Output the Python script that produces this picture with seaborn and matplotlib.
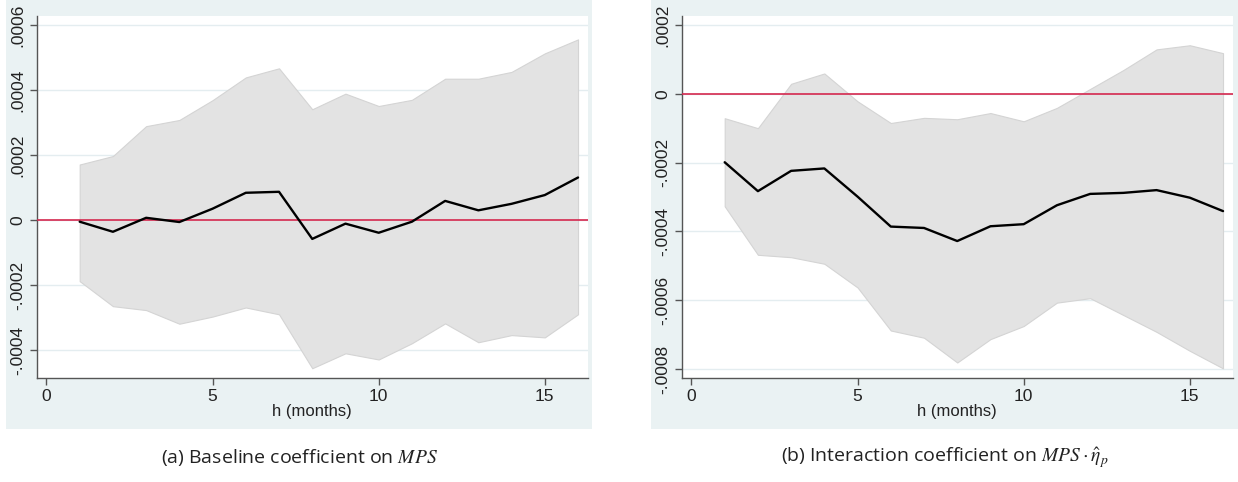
import matplotlib
matplotlib.use("Agg")
import matplotlib.pyplot as plt
import seaborn as sns
import numpy as np
import pandas as pd
from matplotlib.patches import Rectangle
from matplotlib.ticker import FuncFormatter

h = list(range(1, 17))

base_coef = [-0.000005, -0.000036, 0.000007, -0.000006, 0.000035, 0.000084, 0.000087, -0.000058,
             -0.000011, -0.000039, -0.000005, 0.000059, 0.000030, 0.000050, 0.000077, 0.000131]
base_upper = [0.000171, 0.000197, 0.000289, 0.000308, 0.000369, 0.000439, 0.000467, 0.000341,
              0.000389, 0.000351, 0.000370, 0.000435, 0.000435, 0.000456, 0.000513, 0.000556]
base_lower = [-0.000188, -0.000265, -0.000277, -0.000319, -0.000297, -0.000269, -0.000290, -0.000456,
              -0.000410, -0.000429, -0.000379, -0.000318, -0.000376, -0.000354, -0.000361, -0.000290]

int_coef = [-0.000199, -0.000283, -0.000224, -0.000217, -0.000299, -0.000386, -0.000390, -0.000428,
            -0.000385, -0.000379, -0.000324, -0.000291, -0.000288, -0.000280, -0.000302, -0.000341]
int_upper = [-0.000071, -0.000100, 0.000029, 0.000059, -0.000022, -0.000085, -0.000070, -0.000074,
             -0.000056, -0.000080, -0.000041, 0.000014, 0.000069, 0.000129, 0.000141, 0.000118]
int_lower = [-0.000327, -0.000468, -0.000475, -0.000494, -0.000563, -0.000688, -0.000709, -0.000781,
             -0.000713, -0.000675, -0.000607, -0.000594, -0.000643, -0.000692, -0.000747, -0.000798]

x_ticks = [0, 5, 10, 15]
base_yticks = [-0.0004, -0.0002, 0, 0.0002, 0.0004, 0.0006]
int_yticks = [-0.0008, -0.0006, -0.0004, -0.0002, 0, 0.0002]
xlabel = "h (months)"
captions = ["(a) Baseline coefficient on $MPS$", "(b) Interaction coefficient on $MPS \\cdot \\hat{\\eta}_p$"]

sns.set_style("white")
plt.rcParams['font.family'] = ['Liberation Sans', 'DejaVu Sans']
plt.rcParams['mathtext.fontset'] = 'stix'

W, H = 1238, 482
fig = plt.figure(figsize=(W / 100, H / 100), dpi=100)
fig.patch.set_facecolor("white")

BG = "#EAF2F3"
for (x0, x1) in [(6, 592), (651, 1238)]:
    fig.patches.append(Rectangle((x0 / W, 1 - 429 / H), (x1 - x0) / W, 429 / H,
                                 transform=fig.transFigure, facecolor=BG, edgecolor="none", zorder=-5))

def fmt(v, pos):
    if abs(v) < 1e-12:
        return "0"
    s = f"{v:.4f}"
    s = s.replace("0.", ".")
    return s

panels = [
    (36.5, 588, base_coef, base_upper, base_lower, base_yticks, (-0.000486, 0.000628)),
    (681.5, 1233, int_coef, int_upper, int_lower, int_yticks, (-0.000826, 0.000226)),
]

for i, (x0, x1, coef, up, lo, yt, ylim) in enumerate(panels):
    ax = fig.add_axes([x0 / W, 1 - 378 / H, (x1 - x0) / W, (378 - 16) / H])
    ax.set_zorder(5)
    ax.set_facecolor("white")
    df = pd.DataFrame({"h": h, "coef": coef, "upper": up, "lower": lo})
    ax.fill_between(df["h"], df["lower"], df["upper"], facecolor="#e3e3e3",
                    edgecolor="#d4d4d4", linewidth=0.8, zorder=2)
    ax.axhline(0, color="#d4284f", linewidth=1.2, zorder=3)
    sns.lineplot(data=df, x="h", y="coef", ax=ax, color="black", linewidth=1.7, zorder=4)
    ax.set_xlim(-0.3, 16.3)
    ax.set_ylim(*ylim)
    ax.set_xticks(x_ticks)
    ax.set_yticks(yt)
    ax.yaxis.set_major_formatter(FuncFormatter(fmt))
    for yv in yt:
        ax.axhline(yv, color="#e4edf0", linewidth=1.0, zorder=1)
    for sp in ["top", "right"]:
        ax.spines[sp].set_visible(False)
    for sp in ["left", "bottom"]:
        ax.spines[sp].set_color("#555555")
        ax.spines[sp].set_linewidth(1.0)
    ax.tick_params(axis="both", direction="out", length=5, width=1, color="#555555",
                   labelsize=12.5, labelcolor="#222222", pad=3)
    ax.tick_params(axis="both", which="both", bottom=True, left=True)
    for lab in ax.get_yticklabels():
        lab.set_rotation(90)
        lab.set_va("center")
    ax.set_xlabel(xlabel, fontsize=12, color="#222222", labelpad=0)
    ax.set_ylabel("")
    cx = (6 + 592) / 2 / W if i == 0 else (651 + 1238) / 2 / W
    fig.text(cx, 1 - 458 / H, captions[i], ha="center", va="center", fontsize=14,
             family=['Open Sans', 'DejaVu Sans'], color="#222222")

fig.savefig("out.png", dpi=100)
